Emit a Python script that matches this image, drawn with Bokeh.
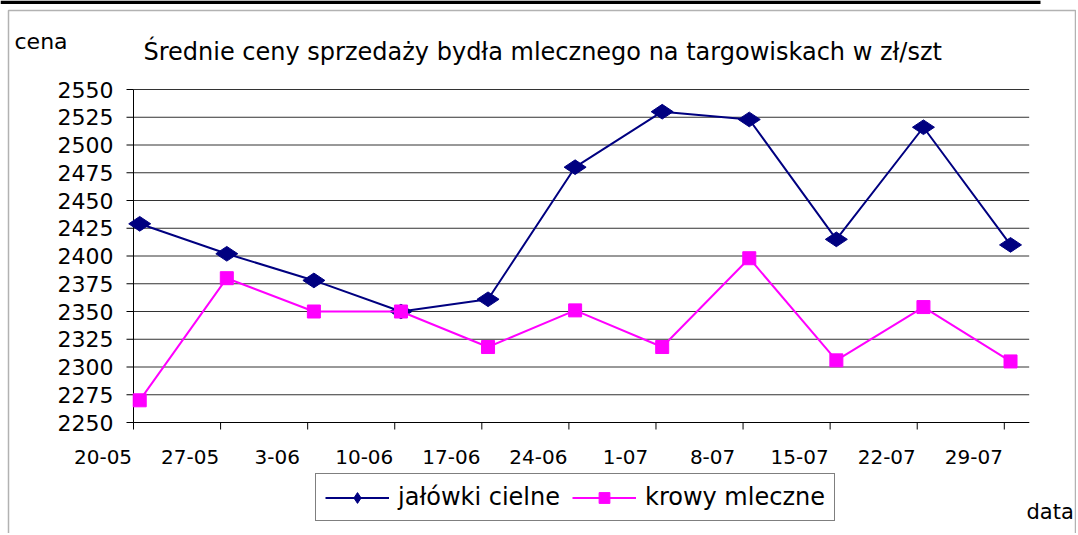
import numpy as np
from bokeh.plotting import figure
from bokeh.models import Range1d, ColumnDataSource, Label, Legend, LegendItem, BoxAnnotation
from bokeh.core.properties import value
from bokeh.embed import file_html
from bokeh.resources import INLINE

# ---- data ----
dates = ["20-05", "27-05", "3-06", "10-06", "17-06", "24-06", "1-07", "8-07", "15-07", "22-07", "29-07"]
jalowki = [2429, 2402, 2378, 2350, 2361, 2480, 2530, 2523, 2415, 2516, 2410]
krowy = [2270, 2380, 2350, 2350, 2318, 2351, 2318, 2398, 2306, 2354, 2305]
y_ticks = list(range(2250, 2551, 25))
series_names = ["jałówki cielne", "krowy mleczne"]
title_text = "Średnie ceny sprzedaży bydła mlecznego na targowiskach w zł/szt"
y_caption = "cena"
x_caption = "data"

# ---- layout (pixels) ----
W, H = 1076, 533
PLOT_L, PLOT_T, PLOT_B = 133, 89, 422          # plot area edges
DAY_PX = 12.44                                  # px per day on the date axis
Y_LO, Y_HI = y_ticks[0], y_ticks[-1]
X_LO, X_HI = 0, 72                              # date axis spans 20-05 .. 31-07 (days)
Y_PX = (PLOT_B - PLOT_T) / (Y_HI - Y_LO)

FONT = "DejaVu Sans"
NAVY = "#000080"
MAGENTA = "#FF00FF"

x_start = X_LO - PLOT_L / DAY_PX
x_end = x_start + W / DAY_PX
y_end = Y_HI + PLOT_T / Y_PX
y_start = y_end - H / Y_PX


def px_x(px):
    return x_start + px / DAY_PX


def px_y(py):
    return y_end - py / Y_PX


day = [7 * i for i in range(len(dates))]          # days since 20-05
xpos = [d + 0.5 for d in day]                      # points sit in the middle of their day
src = ColumnDataSource(dict(x=xpos, j=jalowki, k=krowy))

p = figure(width=W, height=H, x_range=Range1d(x_start, x_end), y_range=Range1d(y_start, y_end),
           output_backend="svg", toolbar_location=None,
           x_axis_location=None, y_axis_location=None, min_border=0)
p.grid.visible = False
p.outline_line_color = None
p.background_fill_color = "white"
p.border_fill_color = "white"

# chart border (as in the original picture)
p.add_layout(BoxAnnotation(left=px_x(0), right=px_x(1040), top=px_y(0), bottom=px_y(3.5),
                           fill_color="black", fill_alpha=1, line_color=None, level="underlay"))
p.add_layout(BoxAnnotation(left=px_x(8), right=px_x(1075), top=px_y(10), bottom=px_y(H + 20),
                           fill_alpha=0, line_color="black", line_width=1.5, level="underlay"))

# horizontal grid lines
p.segment(x0=X_LO, x1=X_HI, y0=y_ticks, y1=y_ticks, line_color="#333333", line_width=1)

# value axis
p.segment(x0=[X_LO], x1=[X_LO], y0=[Y_LO], y1=[Y_HI], line_color="black", line_width=1)
p.ray(x=[X_LO] * len(y_ticks), y=y_ticks, length=7, angle=np.pi, length_units="screen",
      line_color="black", line_width=1)
p.text(x=[X_LO] * len(y_ticks), y=y_ticks, text=[str(v) for v in y_ticks],
       x_offset=-20, text_align="right", text_baseline="middle",
       text_font=value(FONT), text_font_size=value("22px"), text_color="black")

# date axis
p.segment(x0=[X_LO], x1=[X_HI], y0=[Y_LO], y1=[Y_LO], line_color="black", line_width=1)
p.ray(x=day, y=[Y_LO] * len(day), length=7, angle=-np.pi / 2, length_units="screen",
      line_color="black", line_width=1)
p.text(x=[d - 2.45 for d in day], y=[Y_LO] * len(day), text=dates,
       y_offset=34, text_align="center", text_baseline="middle",
       text_font=value(FONT), text_font_size=value("20px"), text_color="black")

# series
l1 = p.line("x", "j", source=src, line_color=NAVY, line_width=2)
s1 = p.scatter("x", "j", source=src, marker="diamond", size=22, angle=np.pi / 2,
               fill_color=NAVY, line_color=NAVY)
l2 = p.line("x", "k", source=src, line_color=MAGENTA, line_width=2)
s2 = p.scatter("x", "k", source=src, marker="square", size=13,
               fill_color=MAGENTA, line_color=MAGENTA)

legend = Legend(items=[LegendItem(label=series_names[0], renderers=[l1, s1]),
                       LegendItem(label=series_names[1], renderers=[l2, s2])],
                location=(315, H - 521), orientation="horizontal",
                border_line_color="black", border_line_width=1,
                background_fill_color="white", background_fill_alpha=1,
                label_text_font=FONT, label_text_font_size="24px", label_text_color="black",
                glyph_width=64, glyph_height=27, label_standoff=9, spacing=12,
                padding=9, margin=0)
p.add_layout(legend)

# texts
p.add_layout(Label(x=143, y=H - 51, x_units="screen", y_units="screen", text=title_text,
                   text_font=FONT, text_font_size="24px", text_color="black",
                   text_baseline="alphabetic"))
p.add_layout(Label(x=14, y=H - 41, x_units="screen", y_units="screen", text=y_caption,
                   text_font=FONT, text_font_size="22px", text_color="black",
                   text_baseline="alphabetic"))
p.add_layout(Label(x=1026, y=H - 511, x_units="screen", y_units="screen", text=x_caption,
                   text_font=FONT, text_font_size="21px", text_color="black",
                   text_baseline="alphabetic"))

open("out.html", "w").write(file_html(p, INLINE))
